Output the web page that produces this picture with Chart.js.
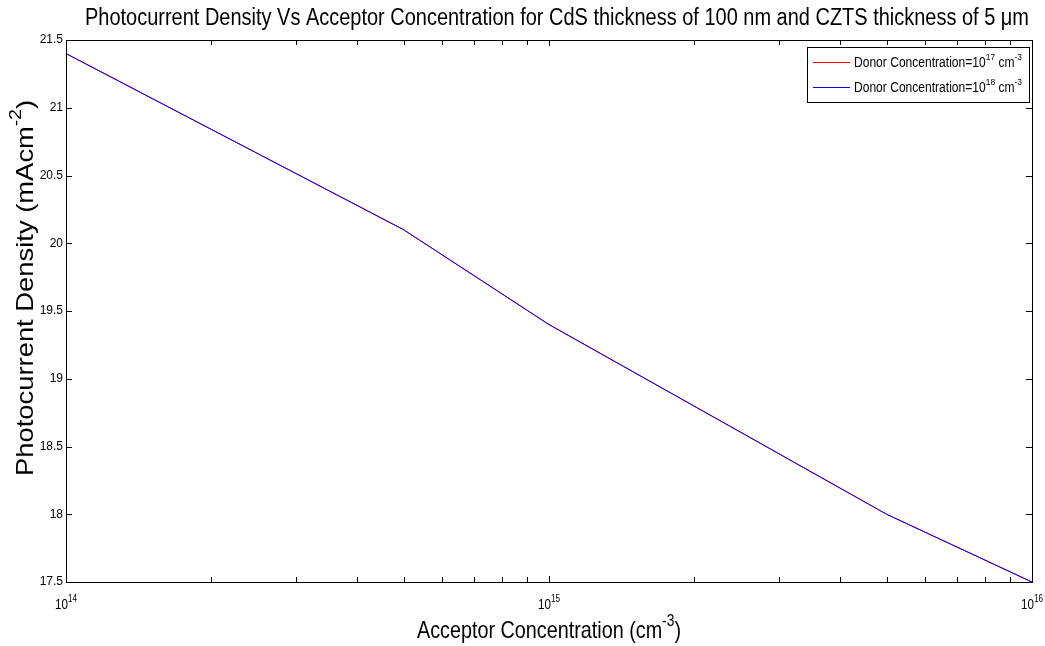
<!DOCTYPE html>
<html>
<head>
<meta charset="utf-8">
<script src="https://cdn.jsdelivr.net/npm/chart.js@4.4.1/dist/chart.umd.min.js"></script>
<style>
  html, body { margin: 0; padding: 0; background: #fff; }
  #wrap { width: 1045px; height: 646px; position: relative; }
</style>
</head>
<body>
<div id="wrap"><canvas id="chart"></canvas></div>
<script>
// Photocurrent density vs acceptor concentration
const acceptorConc = [1e14, 5e14, 1e15, 5e15, 1e16];
const jphDonor17 = [21.4, 20.1, 19.4, 18.0, 17.5];
const jphDonor18 = [21.4, 20.1, 19.4, 18.0, 17.5];
const seriesLabels = [
    'Donor Concentration=10^{17} cm^{-3}',
    'Donor Concentration=10^{18} cm^{-3}'
];
const seriesColors = ['#ff0000', '#0000ff'];
const xTickExps = [14, 15, 16];
const yTickValues = [17.5, 18, 18.5, 19, 19.5, 20, 20.5, 21, 21.5];

const titleText = 'Photocurrent Density Vs Acceptor Concentration for CdS thickness of 100 nm and CZTS thickness of 5 \u03bcm';
const xTitleText = 'Acceptor Concentration (cm^{-3})';
const yTitleText = 'Photocurrent Density (mAcm^{-2})';

const FONT = '"Liberation Sans", Arial, Helvetica, sans-serif';

// split "a^{b}c" into normal / superscript parts
function parseRich(s) {
    const parts = [];
    const re = /\^\{([^}]*)\}/g;
    let last = 0, m;
    while ((m = re.exec(s))) {
        if (m.index > last) parts.push({ t: s.slice(last, m.index), sup: false });
        parts.push({ t: m[1], sup: true });
        last = re.lastIndex;
    }
    if (last < s.length) parts.push({ t: s.slice(last), sup: false });
    return parts;
}

function richWidth(ctx, parts, size) {
    let w = 0;
    parts.forEach(p => {
        ctx.font = (p.sup ? size * 0.7 : size) + 'px ' + FONT;
        w += ctx.measureText(p.t).width;
    });
    return w;
}

// draws rich text with baseline at (x, y); optional target length squeezes it
function drawRich(ctx, s, x, y, size, align, target) {
    const parts = parseRich(s);
    const w = richWidth(ctx, parts, size);
    const sx = target ? target / w : 1;
    ctx.save();
    ctx.translate(x, y);
    ctx.scale(sx, 1);
    let cx = align === 'center' ? -w / 2 : (align === 'right' ? -w : 0);
    ctx.textAlign = 'left';
    ctx.textBaseline = 'alphabetic';
    ctx.fillStyle = '#000';
    parts.forEach(p => {
        const fs = p.sup ? size * 0.7 : size;
        ctx.font = fs + 'px ' + FONT;
        ctx.fillText(p.t, cx, p.sup ? -size * 0.5 : 0);
        cx += ctx.measureText(p.t).width;
    });
    ctx.restore();
}

const matlabFrame = {
    id: 'matlabFrame',
    afterDraw(chart) {
        const ctx = chart.ctx;
        const a = chart.chartArea;
        const xs = chart.scales.x;
        const ys = chart.scales.y;

        // axes box
        ctx.save();
        ctx.strokeStyle = '#000';
        ctx.lineWidth = 1;
        ctx.strokeRect(Math.round(a.left) + 0.5, Math.round(a.top) + 0.5,
            Math.round(a.right - a.left), Math.round(a.bottom - a.top));

        // inward ticks
        ctx.beginPath();
        yTickValues.forEach(v => {
            const y = Math.round(ys.getPixelForValue(v)) + 0.5;
            ctx.moveTo(a.left, y); ctx.lineTo(a.left + 6, y);
            ctx.moveTo(a.right, y); ctx.lineTo(a.right - 6, y);
        });
        const lo = Math.log10(xs.min), hi = Math.log10(xs.max);
        for (let d = lo; d < hi; d++) {
            for (let k = 1; k <= 9; k++) {
                const x = Math.round(xs.getPixelForValue(k * Math.pow(10, d))) + 0.5;
                const len = k === 1 ? 6 : 5;
                ctx.moveTo(x, a.bottom); ctx.lineTo(x, a.bottom - len);
                ctx.moveTo(x, a.top); ctx.lineTo(x, a.top + len);
            }
        }
        ctx.stroke();

        // x tick labels 10^n
        xTickExps.forEach(e => {
            const x = xs.getPixelForValue(Math.pow(10, e));
            drawRich(ctx, '10^{' + e + '}', x, 609, 15, 'center', 22);
        });

        // title and axis titles
        drawRich(ctx, titleText, 557, 25, 23, 'center', 944);
        drawRich(ctx, xTitleText, (a.left + a.right) / 2, 638, 24, 'center', 264);
        ctx.save();
        ctx.translate(33, 288);
        ctx.rotate(-Math.PI / 2);
        drawRich(ctx, yTitleText, 0, 0, 24, 'center', 376);
        ctx.restore();

        // legend box
        const lx = 807, ly = 47, lw = 222, lh = 55;
        ctx.fillStyle = '#fff';
        ctx.fillRect(lx, ly, lw, lh);
        ctx.strokeStyle = '#000';
        ctx.lineWidth = 1;
        ctx.strokeRect(lx + 0.5, ly + 0.5, lw, lh);
        seriesLabels.forEach((lab, i) => {
            const yy = ly + 15 + i * 25;
            ctx.strokeStyle = seriesColors[i];
            ctx.beginPath();
            ctx.moveTo(813, yy + 0.5); ctx.lineTo(850, yy + 0.5);
            ctx.stroke();
            drawRich(ctx, lab, 854, yy + 5, 14, 'left', 168);
        });
        ctx.restore();
    }
};

new Chart(document.getElementById('chart'), {
    type: 'line',
    data: {
        datasets: [
            {
                label: seriesLabels[0],
                data: acceptorConc.map((x, i) => ({ x: x, y: jphDonor17[i] })),
                borderColor: seriesColors[0],
                borderWidth: 1,
                pointRadius: 0,
                tension: 0,
                order: 1
            },
            {
                label: seriesLabels[1],
                data: acceptorConc.map((x, i) => ({ x: x, y: jphDonor18[i] })),
                borderColor: seriesColors[1],
                borderWidth: 1,
                pointRadius: 0,
                tension: 0,
                order: 0
            }
        ]
    },
    options: {
        responsive: true,
        maintainAspectRatio: false,
        animation: false,
        layout: { padding: { top: 40, right: 13, bottom: 0, left: 0 } },
        plugins: {
            legend: { display: false },
            title: { display: false },
            tooltip: { enabled: false }
        },
        scales: {
            x: {
                type: 'logarithmic',
                min: 1e14,
                max: 1e16,
                grid: { display: false, drawTicks: false },
                border: { display: false },
                ticks: { display: false },
                afterFit: s => { s.height = 64; }
            },
            y: {
                min: 17.5,
                max: 21.5,
                grid: { display: false, drawTicks: false },
                border: { display: false },
                afterBuildTicks: s => { s.ticks = yTickValues.map(v => ({ value: v })); },
                ticks: {
                    color: '#000',
                    padding: 3,
                    font: { family: FONT, size: 12 },
                    callback: v => String(v)
                },
                afterFit: s => { s.width = 66; }
            }
        }
    },
    plugins: [matlabFrame]
});
</script>
</body>
</html>
